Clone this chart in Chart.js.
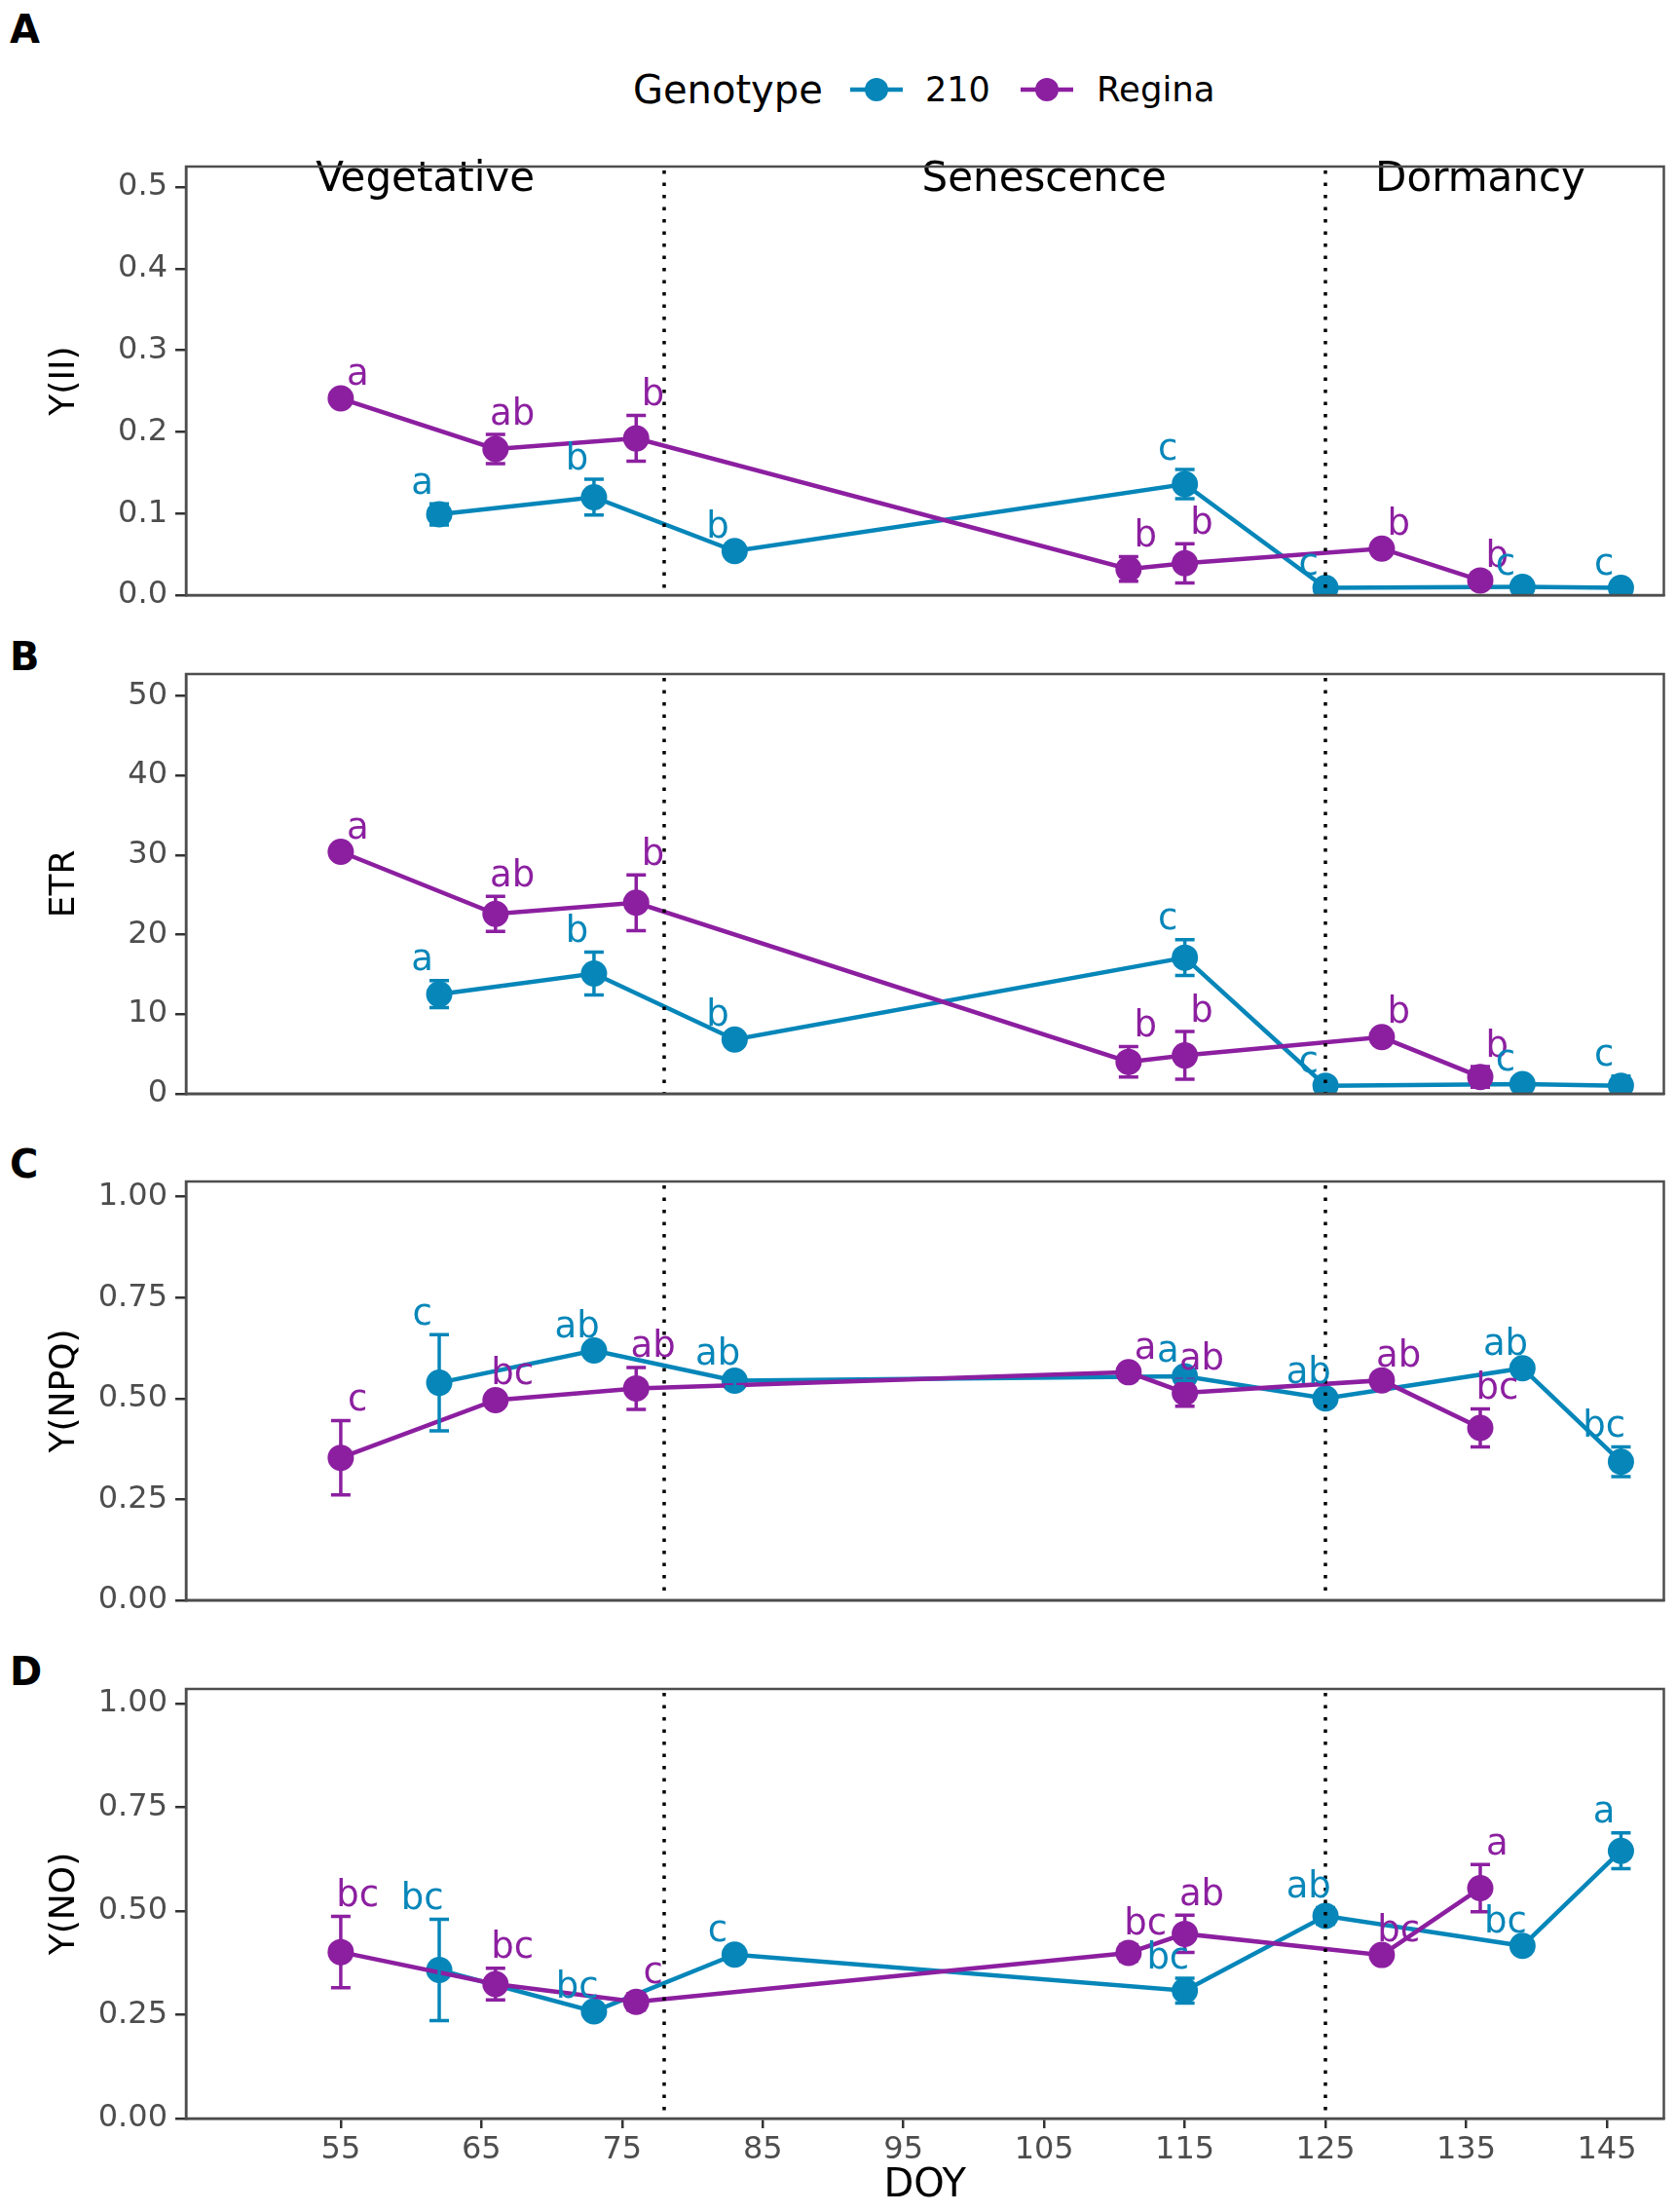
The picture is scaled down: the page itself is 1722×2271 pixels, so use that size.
<!DOCTYPE html>
<html>
<head>
<meta charset="utf-8">
<script src="https://cdn.jsdelivr.net/npm/chart.js@4.4.1/dist/chart.umd.min.js"></script>
<style>
html,body{margin:0;padding:0;background:#fff;}
body{width:1722px;height:2271px;position:relative;overflow:hidden;font-family:'DejaVu Sans',sans-serif;}
canvas{position:absolute;left:0;}
.plabel{position:absolute;left:10px;font-weight:bold;font-size:40px;line-height:40px;color:#000;}
.lg{position:absolute;top:0;line-height:52px;color:#000;white-space:nowrap;}
</style>
</head>
<body>
<div class="plabel" style="top:10px">A</div>
<div class="plabel" style="top:654px">B</div>
<div class="plabel" style="top:1175px">C</div>
<div class="plabel" style="top:1696px">D</div>

<div id="legend" style="position:absolute;top:66px;left:0;width:1722px;height:52px;"></div>

<canvas id="cA" style="top:140px" width="1722" height="500"></canvas>
<canvas id="cB" style="top:650px" width="1722" height="500"></canvas>
<canvas id="cC" style="top:1170px" width="1722" height="500"></canvas>
<canvas id="cD" style="top:1700px" width="1722" height="571"></canvas>

<script>
// ---------------- DATA ----------------
const genotypes = ['210', 'Regina'];
const doy210 = [62, 73, 83, 115, 125, 139, 146];
const doyRegina = [55, 66, 76, 111, 115, 129, 136];

const xTicks = [55, 65, 75, 85, 95, 105, 115, 125, 135, 145];
const phaseNames = ['Vegetative', 'Senescence', 'Dormancy'];
const phaseCenters = [61, 105, 136];
const phaseBounds = [78, 125];

// A: Y(II)
const yii210 = [0.099, 0.120, 0.054, 0.136, 0.009, 0.010, 0.009];
const yii210Se = [0.013, 0.022, 0.004, 0.018, 0.004, 0.003, 0.004];
const yii210Letters = ['a', 'b', 'b', 'c', 'c', 'c', 'c'];
const yiiRegina = [0.241, 0.179, 0.192, 0.032, 0.039, 0.057, 0.018];
const yiiReginaSe = [0.004, 0.018, 0.028, 0.015, 0.024, 0.004, 0.004];
const yiiReginaLetters = ['a', 'ab', 'b', 'b', 'b', 'b', 'b'];
const yiiTicks = [0, 0.1, 0.2, 0.3, 0.4, 0.5];
const yiiTickLabels = ['0.0', '0.1', '0.2', '0.3', '0.4', '0.5'];

// B: ETR
const etr210 = [12.5, 15.1, 6.8, 17.1, 1.0, 1.2, 1.0];
const etr210Se = [1.7, 2.7, 0.5, 2.25, 0.4, 0.4, 1.2];
const etr210Letters = ['a', 'b', 'b', 'c', 'c', 'c', 'c'];
const etrRegina = [30.4, 22.6, 24.0, 4.0, 4.8, 7.1, 2.1];
const etrReginaSe = [0.4, 2.2, 3.5, 1.9, 3.0, 0.5, 1.3];
const etrReginaLetters = ['a', 'ab', 'b', 'b', 'b', 'b', 'b'];
const etrTicks = [0, 10, 20, 30, 40, 50];
const etrTickLabels = ['0', '10', '20', '30', '40', '50'];

// C: Y(NPQ)
const npq210 = [0.539, 0.619, 0.544, 0.555, 0.500, 0.575, 0.343];
const npq210Se = [0.119, 0.008, 0.015, 0.010, 0.012, 0.008, 0.037];
const npq210Letters = ['c', 'ab', 'ab', 'a', 'ab', 'ab', 'bc'];
const npqRegina = [0.353, 0.496, 0.525, 0.565, 0.514, 0.545, 0.427];
const npqReginaSe = [0.092, 0.015, 0.052, 0.008, 0.033, 0.008, 0.047];
const npqReginaLetters = ['c', 'bc', 'ab', 'a', 'ab', 'ab', 'bc'];

// D: Y(NO)
const no210 = [0.358, 0.258, 0.395, 0.308, 0.488, 0.416, 0.645];
const no210Se = [0.122, 0.008, 0.008, 0.030, 0.020, 0.008, 0.043];
const no210Letters = ['bc', 'bc', 'c', 'bc', 'ab', 'bc', 'a'];
const noRegina = [0.401, 0.324, 0.281, 0.399, 0.445, 0.394, 0.555];
const noReginaSe = [0.086, 0.038, 0.020, 0.020, 0.045, 0.008, 0.057];
const noReginaLetters = ['bc', 'bc', 'c', 'bc', 'ab', 'bc', 'a'];

const fracTicks = [0, 0.25, 0.5, 0.75, 1.0];
const fracTickLabels = ['0.00', '0.25', '0.50', '0.75', '1.00'];

// ---------------- STYLE ----------------
const COL210 = '#0686B9';
const COLREG = '#8C1FA0';
const FONT = "'DejaVu Sans', sans-serif";
Chart.defaults.font.family = FONT;

// legend (HTML)
(function () {
  const lg = document.getElementById('legend');
  function marker(left, col) {
    return '<svg style="position:absolute;left:' + left + 'px;top:0" width="54" height="52">' +
      '<line x1="0" y1="26" x2="54" y2="26" stroke="' + col + '" stroke-width="4.5"/>' +
      '<circle cx="27" cy="26" r="12" fill="' + col + '"/></svg>';
  }
  lg.innerHTML =
    '<span class="lg" style="left:650px;font-size:40px">Genotype</span>' +
    marker(873, COL210) +
    '<span class="lg" style="left:950px;font-size:35px">' + genotypes[0] + '</span>' +
    marker(1048, COLREG) +
    '<span class="lg" style="left:1126px;font-size:35.5px">' + genotypes[1] + '</span>';
})();

const annotPlugin = {
  id: 'annot',
  afterDatasetsDraw(chart, args, opts) {
    const ctx = chart.ctx;
    const ca = chart.chartArea;
    const x = chart.scales.x, y = chart.scales.y;
    ctx.save();
    ctx.beginPath();
    ctx.rect(ca.left, ca.top, ca.right - ca.left, ca.bottom - ca.top);
    ctx.clip();
    // error bars
    chart.data.datasets.forEach(ds => {
      ctx.strokeStyle = ds.borderColor;
      ctx.lineWidth = 3.5;
      ds.data.forEach((pt, i) => {
        const se = ds.se[i];
        const px = x.getPixelForValue(pt.x);
        const yt = y.getPixelForValue(pt.y + se);
        const yb = y.getPixelForValue(pt.y - se);
        ctx.beginPath();
        ctx.moveTo(px, yt); ctx.lineTo(px, yb);
        ctx.moveTo(px - 10, yt); ctx.lineTo(px + 10, yt);
        ctx.moveTo(px - 10, yb); ctx.lineTo(px + 10, yb);
        ctx.stroke();
      });
    });
    // dotted phase boundaries
    ctx.strokeStyle = '#000';
    ctx.lineWidth = 3.5;
    ctx.setLineDash([3.5, 9]);
    phaseBounds.forEach(b => {
      const px = Math.round(x.getPixelForValue(b));
      ctx.beginPath();
      ctx.moveTo(px, ca.top + 4);
      ctx.lineTo(px, ca.bottom);
      ctx.stroke();
    });
    ctx.setLineDash([]);
    ctx.restore();

    // letters
    ctx.save();
    ctx.font = '37px ' + FONT;
    ctx.textAlign = 'center';
    ctx.textBaseline = 'middle';
    chart.data.datasets.forEach(ds => {
      ctx.fillStyle = ds.borderColor;
      ds.data.forEach((pt, i) => {
        const px = x.getPixelForValue(pt.x + ds.nudge);
        const py = y.getPixelForValue(pt.y + ds.se[i]) - 20;
        ctx.fillText(ds.letters[i], px, py);
      });
    });
    // phase labels
    if (opts.phases) {
      ctx.fillStyle = '#000';
      ctx.font = '42px ' + FONT;
      ctx.textBaseline = 'top';
      phaseNames.forEach((n, i) => {
        ctx.fillText(n, x.getPixelForValue(phaseCenters[i]), ca.top - 7);
      });
    }
    // panel border
    ctx.strokeStyle = '#4d4d4d';
    ctx.lineWidth = 2.5;
    ctx.strokeRect(ca.left, ca.top, ca.right - ca.left, ca.bottom - ca.top);
    ctx.restore();
  }
};

function makePanel(id, o) {
  const pts = (xs, ys) => xs.map((v, i) => ({ x: v, y: ys[i] }));
  const isD = !!o.showX;
  new Chart(document.getElementById(id), {
    type: 'line',
    data: {
      datasets: [
        {
          label: genotypes[1], data: pts(doyRegina, o.reg), se: o.regSe, letters: o.regL, nudge: 1.2,
          borderColor: COLREG, backgroundColor: COLREG, pointBackgroundColor: COLREG,
          borderWidth: 4.5, pointRadius: 13.5, pointBorderWidth: 0, pointHoverRadius: 13.5, tension: 0, order: 0
        },
        {
          label: genotypes[0], data: pts(doy210, o.g210), se: o.g210Se, letters: o.g210L, nudge: -1.2,
          borderColor: COL210, backgroundColor: COL210, pointBackgroundColor: COL210,
          borderWidth: 4.5, pointRadius: 13.5, pointBorderWidth: 0, pointHoverRadius: 13.5, tension: 0, order: 1
        }
      ]
    },
    options: {
      responsive: false,
      animation: false,
      devicePixelRatio: 1,
      events: [],
      layout: { padding: { top: o.padTop, right: 13, left: 0, bottom: 0 } },
      plugins: { legend: { display: false }, tooltip: { enabled: false }, annot: { phases: !!o.phases } },
      scales: {
        x: {
          type: 'linear', min: 44, max: 149.05,
          afterBuildTicks: s => { s.ticks = xTicks.map(v => ({ value: v })); },
          afterFit: s => { s.height = o.xh; },
          ticks: { display: isD, color: '#4d4d4d', font: { size: 32 }, padding: 3, maxRotation: 0, autoSkip: false,
                   callback: (v) => String(v) },
          grid: { display: isD, drawOnChartArea: false, drawTicks: true, tickLength: 10, color: '#333333', lineWidth: 2.5 },
          border: { display: true, color: '#4d4d4d', width: 2.5 },
          title: { display: isD, text: 'DOY', color: '#000', font: { size: 40 }, padding: { top: 0, bottom: 2 } }
        },
        y: {
          type: 'linear', min: 0, max: o.ymax,
          afterBuildTicks: s => { s.ticks = o.ticks.map(v => ({ value: v })); },
          afterFit: s => { s.width = 191; },
          ticks: { color: '#4d4d4d', font: { size: 32 }, padding: 8, autoSkip: false,
                   callback: (v, i) => o.tickLabels[i] },
          grid: { display: true, drawOnChartArea: false, drawTicks: true, tickLength: 11, color: '#333333', lineWidth: 2.5 },
          border: { display: true, color: '#4d4d4d', width: 2.5 },
          title: { display: true, text: o.title, color: '#000', font: { size: 36 }, padding: { top: 45, bottom: 0 } }
        }
      }
    },
    plugins: [annotPlugin]
  });
}

makePanel('cA', { reg: yiiRegina, regSe: yiiReginaSe, regL: yiiReginaLetters,
  g210: yii210, g210Se: yii210Se, g210L: yii210Letters,
  ymax: 0.525, ticks: yiiTicks, tickLabels: yiiTickLabels, title: 'Y(II)', padTop: 31, xh: 29, phases: true });
makePanel('cB', { reg: etrRegina, regSe: etrReginaSe, regL: etrReginaLetters,
  g210: etr210, g210Se: etr210Se, g210L: etr210Letters,
  ymax: 52.75, ticks: etrTicks, tickLabels: etrTickLabels, title: 'ETR', padTop: 42, xh: 17 });
makePanel('cC', { reg: npqRegina, regSe: npqReginaSe, regL: npqReginaLetters,
  g210: npq210, g210Se: npq210Se, g210L: npq210Letters,
  ymax: 1.038, ticks: fracTicks, tickLabels: fracTickLabels, title: 'Y(NPQ)', padTop: 43, xh: 16 });
makePanel('cD', { reg: noRegina, regSe: noReginaSe, regL: noReginaLetters,
  g210: no210, g210Se: no210Se, g210L: no210Letters,
  ymax: 1.035, ticks: fracTicks, tickLabels: fracTickLabels, title: 'Y(NO)', padTop: 34, xh: 96, showX: true });
</script>
</body>
</html>
